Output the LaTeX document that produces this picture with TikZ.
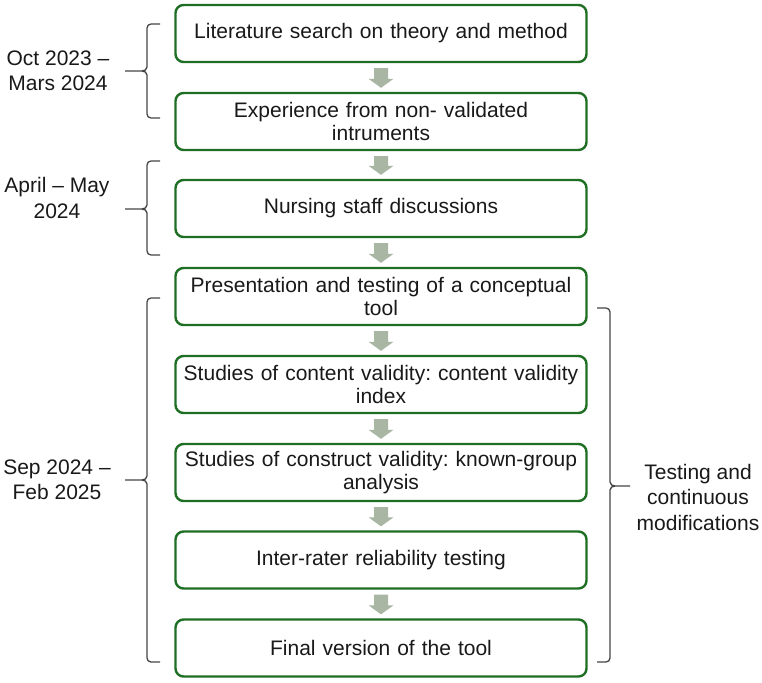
\documentclass[tikz,border=0pt]{standalone}
\usepackage{fontspec}
\setmainfont{Liberation Sans}
\usetikzlibrary{calc}
\frenchspacing
\definecolor{boxgreen}{RGB}{30,110,35}
\definecolor{arrowgray}{RGB}{168,182,163}
\definecolor{txt}{RGB}{25,25,25}
\definecolor{bracegray}{RGB}{70,70,70}
\tikzset{
  stepbox/.style={draw=boxgreen, line width=2.4pt, rounded corners=8pt, fill=white,
    minimum width=411pt, minimum height=57pt, text width=404pt, align=center,
    inner sep=2pt, font=\fontsize{21}{23.5}\selectfont, text=txt},
  sidelabel/.style={align=center, font=\fontsize{21}{25.5}\selectfont, text=txt, inner sep=0pt},
  bracestyle/.style={draw=bracegray, line width=1.3pt},
  arrowfill/.style={fill=arrowgray}
}
\newcommand\flowarrow[2]{%
  \fill[arrowfill] ($(#1.south)+(-7,5)$) -- ($(#1.south)+(7,5)$) --
    ($(#2.north)+(7,-13)$) -- ($(#2.north)+(12.5,-13)$) -- ($(#2.north)+(0,-4)$) --
    ($(#2.north)+(-12.5,-13)$) -- ($(#2.north)+(-7,-13)$) -- cycle;}
\newcommand\leftbrace[4]{% x-vert, top, bottom, mid
  \draw[bracestyle] (#1+13,#2) -- (#1+4,#2) to[out=180,in=90] (#1,#2+4) -- (#1,#4-4)
    to[out=-90,in=0] (#1-5,#4) -- (#1-22,#4);
  \draw[bracestyle] (#1-5,#4) to[out=0,in=90] (#1,#4+4) -- (#1,#3-4)
    to[out=-90,in=180] (#1+4,#3) -- (#1+13,#3);}
\begin{document}
\begin{tikzpicture}[x=1pt,y=-1pt]
\useasboundingbox[fill=white] (0,0) rectangle (762,682);
\node[stepbox] (b1) at (381,33.5) {Literature search on theory and method};
\node[stepbox] (b2) at (381,121.5) {Experience from non- validated\\intruments};
\node[stepbox] (b3) at (381,208.5) {Nursing staff discussions};
\node[stepbox] (b4) at (381,296.5) {Presentation and testing of a conceptual\\tool};
\node[stepbox] (b5) at (381,384.5) {Studies of content validity: content validity\\index};
\node[stepbox] (b6) at (381,472.5) {Studies of construct validity: known-group\\analysis};
\node[stepbox] (b7) at (381,560) {Inter-rater reliability testing};
\node[stepbox] (b8) at (381,648) {Final version of the tool};
\flowarrow{b1}{b2}
\flowarrow{b2}{b3}
\flowarrow{b3}{b4}
\flowarrow{b4}{b5}
\flowarrow{b5}{b6}
\flowarrow{b6}{b7}
\flowarrow{b7}{b8}
\leftbrace{147}{24}{118}{71}
\leftbrace{147}{161}{255}{209}
\leftbrace{147}{298}{662}{480}
% right brace
\draw[bracestyle] (597,308) -- (606,308) to[out=0,in=90] (610,312) -- (610,482)
  to[out=-90,in=180] (615,486) -- (630,486);
\draw[bracestyle] (615,486) to[out=180,in=90] (610,490) -- (610,658)
  to[out=-90,in=0] (606,662) -- (597,662);
\node[sidelabel] (l1) at (58,71) {Oct 2023 –\\Mars 2024};
\node[sidelabel] (l2) at (57,198) {April – May\\2024};
\node[sidelabel] (l3) at (57,480) {Sep 2024 –\\Feb 2025};
\node[sidelabel] (l4) at (698,497) {Testing and\\continuous\\modifications};
\end{tikzpicture}
\end{document}
